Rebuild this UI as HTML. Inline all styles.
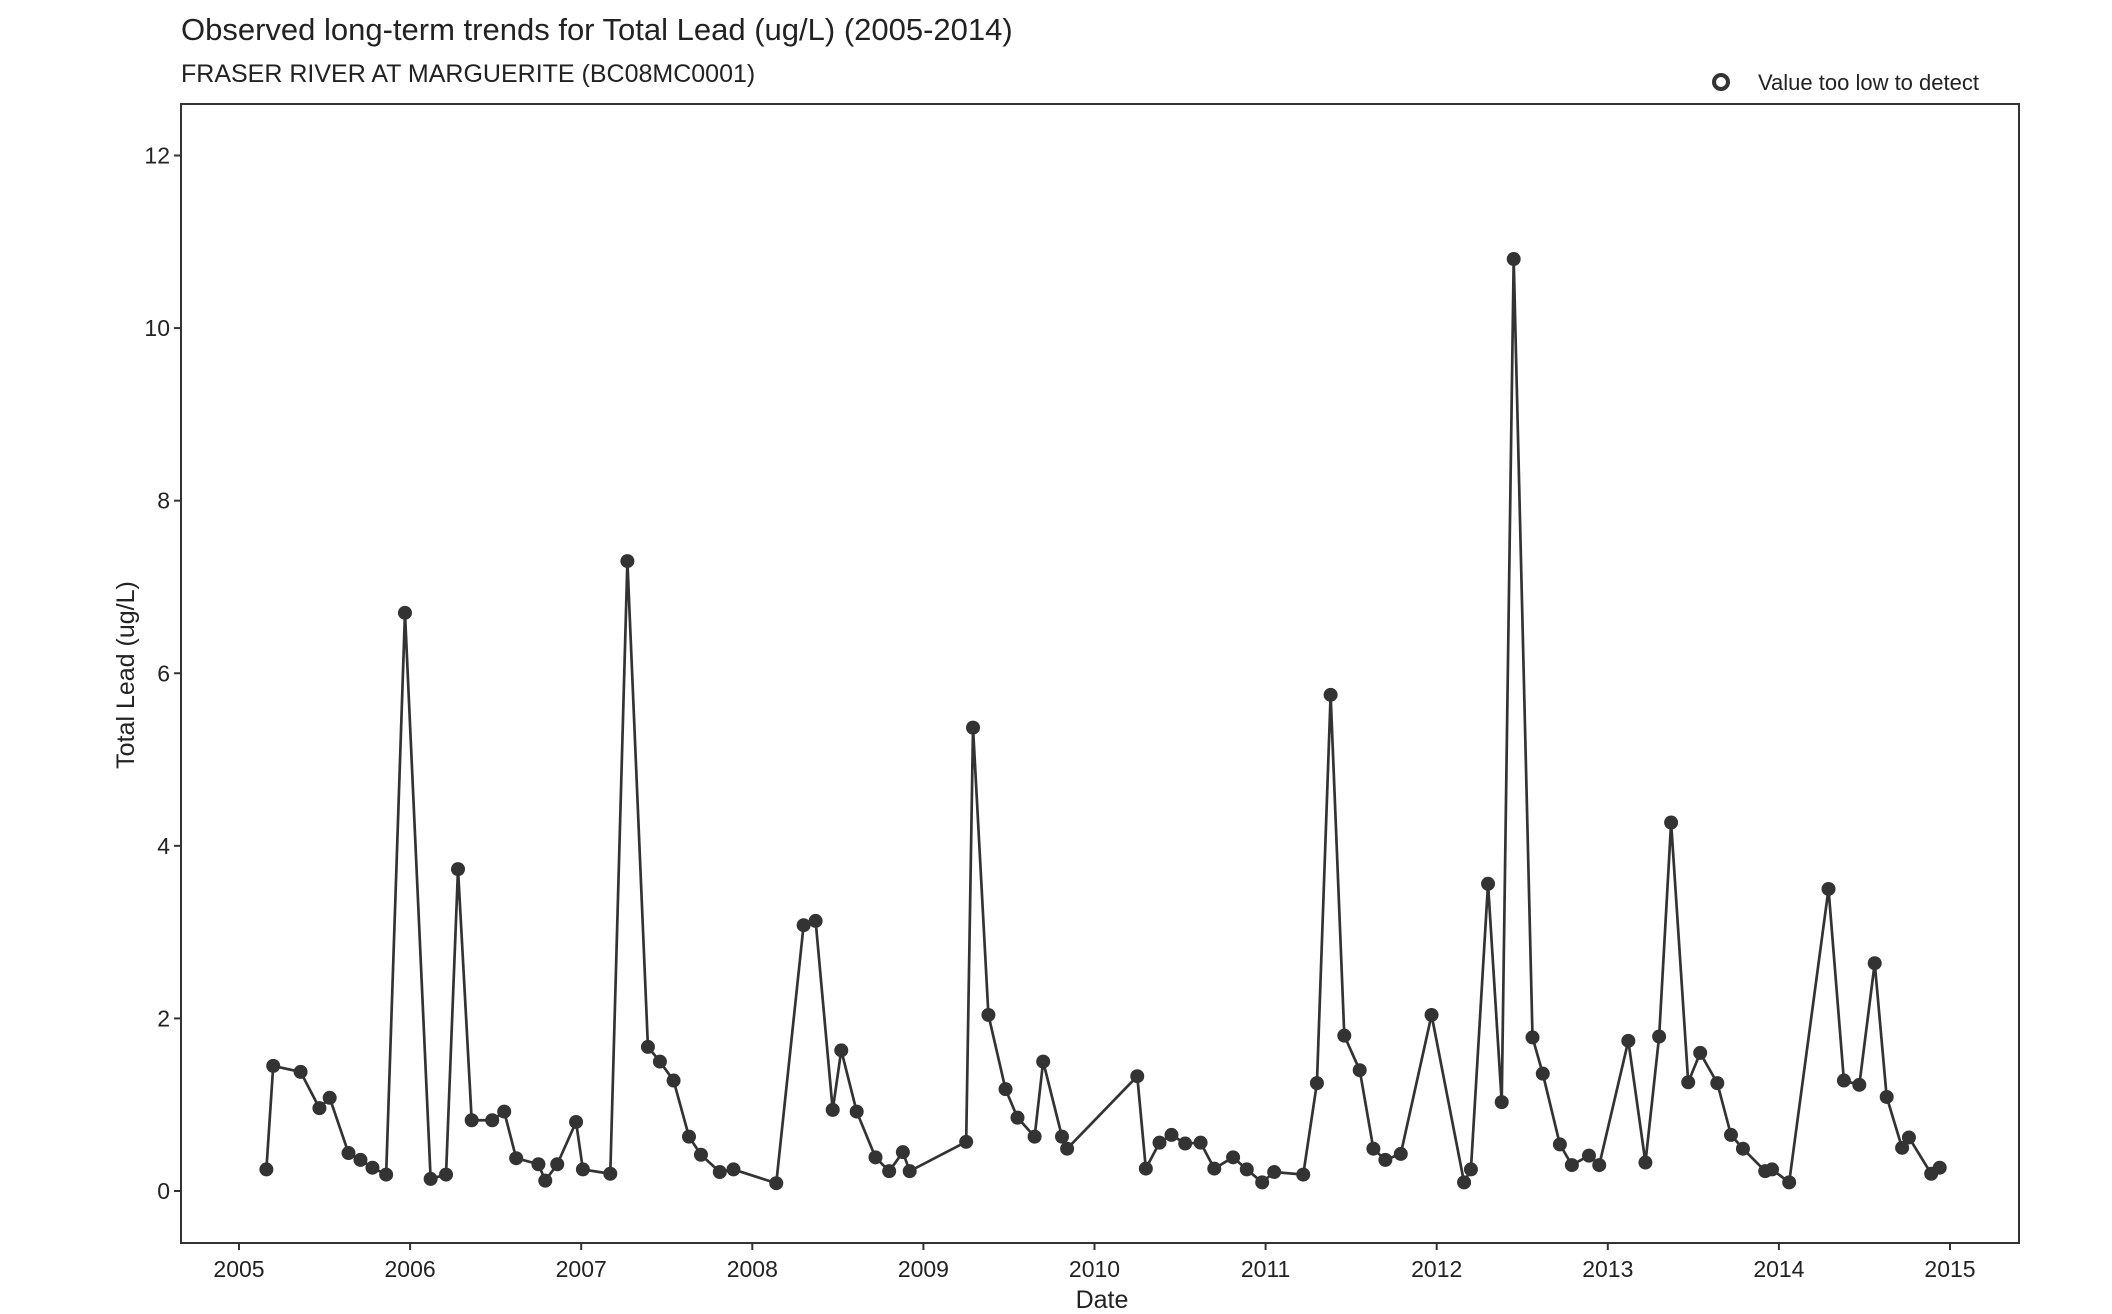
<!DOCTYPE html>
<html><head><meta charset="utf-8"><style>
body{margin:0;background:#fff;}
svg text{font-family:"Liberation Sans",Arial,sans-serif;fill:#222;}
</style></head><body>
<svg id="chart" width="2112" height="1309" xmlns="http://www.w3.org/2000/svg">
<text x="181" y="40" font-size="31">Observed long-term trends for Total Lead (ug/L) (2005-2014)</text>
<text x="181" y="82" font-size="25">FRASER RIVER AT MARGUERITE (BC08MC0001)</text>
<g>
<circle cx="1721" cy="82" r="7" fill="none" stroke="#333" stroke-width="4"/>
<text x="1758" y="90" font-size="22">Value too low to detect</text>
</g>
<rect x="181" y="104" width="1838" height="1139" fill="none" stroke="#333" stroke-width="2"/>
<g id="yaxis"></g>
<g id="xaxis"></g>
<text transform="translate(134,675) rotate(-90)" text-anchor="middle" font-size="25">Total Lead (ug/L)</text>
<text x="1102" y="1308" text-anchor="middle" font-size="25">Date</text>
<g id="series"></g>
</svg>
<script>
const dates=[2005.16,2005.20,2005.36,2005.47,2005.53,2005.64,2005.71,2005.78,2005.86,2005.97,2006.12,2006.21,2006.28,2006.36,2006.48,2006.55,2006.62,2006.75,2006.79,2006.86,2006.97,2007.01,2007.17,2007.27,2007.39,2007.46,2007.54,2007.63,2007.70,2007.81,2007.89,2008.14,2008.30,2008.37,2008.47,2008.52,2008.61,2008.72,2008.80,2008.88,2008.92,2009.25,2009.29,2009.38,2009.48,2009.55,2009.65,2009.70,2009.81,2009.84,2010.25,2010.30,2010.38,2010.45,2010.53,2010.62,2010.70,2010.81,2010.89,2010.98,2011.05,2011.22,2011.30,2011.38,2011.46,2011.55,2011.63,2011.70,2011.79,2011.97,2012.16,2012.20,2012.30,2012.38,2012.45,2012.56,2012.62,2012.72,2012.79,2012.89,2012.95,2013.12,2013.22,2013.30,2013.37,2013.47,2013.54,2013.64,2013.72,2013.79,2013.92,2013.96,2014.06,2014.29,2014.38,2014.47,2014.56,2014.63,2014.72,2014.76,2014.89,2014.94];
const values=[0.25,1.45,1.38,0.96,1.08,0.44,0.36,0.27,0.19,6.7,0.14,0.19,3.73,0.82,0.82,0.92,0.38,0.31,0.12,0.31,0.80,0.25,0.2,7.3,1.67,1.5,1.28,0.63,0.42,0.22,0.25,0.09,3.08,3.13,0.94,1.63,0.92,0.39,0.23,0.45,0.23,0.57,5.37,2.04,1.18,0.85,0.63,1.5,0.63,0.49,1.33,0.26,0.56,0.65,0.55,0.56,0.26,0.39,0.25,0.1,0.22,0.19,1.25,5.75,1.8,1.4,0.49,0.36,0.43,2.04,0.1,0.25,3.56,1.03,10.8,1.78,1.36,0.54,0.3,0.41,0.3,1.74,0.33,1.79,4.27,1.26,1.6,1.25,0.65,0.49,0.23,0.25,0.1,3.5,1.28,1.23,2.64,1.09,0.5,0.62,0.2,0.27];
const yTicks=[0,2,4,6,8,10,12];
const xTicks=[2005,2006,2007,2008,2009,2010,2011,2012,2013,2014,2015];
const NS="http://www.w3.org/2000/svg";
function xs(v){return 239+(v-2005)*(1950-239)/10;}
function ys(v){return 1191-v*(1191-155.5)/12;}
function mk(t,a){const e=document.createElementNS(NS,t);for(const k in a)e.setAttribute(k,a[k]);return e;}
const ya=document.getElementById('yaxis'),xa=document.getElementById('xaxis'),sr=document.getElementById('series');
yTicks.forEach(t=>{
 const l=mk('line',{x1:174,x2:181,y1:ys(t),y2:ys(t),stroke:'#333','stroke-width':2});
 
 
 ya.appendChild(l);
 const tx=mk('text',{x:170,y:ys(t)+8,'text-anchor':'end','font-size':23});
 
 
 tx.textContent=t;ya.appendChild(tx);
});
xTicks.forEach(t=>{
 const l=mk('line',{x1:xs(t),x2:xs(t),y1:1243,y2:1250,stroke:'#333','stroke-width':2});
 
 
 xa.appendChild(l);
 const tx=mk('text',{x:xs(t),y:1277,'text-anchor':'middle','font-size':23});
 
 
 tx.textContent=t;xa.appendChild(tx);
});
const pl=mk('polyline',{points:dates.map((d,i)=>xs(d)+','+ys(values[i])).join(' '),fill:'none',stroke:'#333','stroke-width':2.7});


sr.appendChild(pl);
dates.forEach((d,i)=>{
 const c=mk('circle',{cx:xs(d),cy:ys(values[i]),r:7,fill:'#333'});
 
 
 sr.appendChild(c);
});
</script>
</body></html>
